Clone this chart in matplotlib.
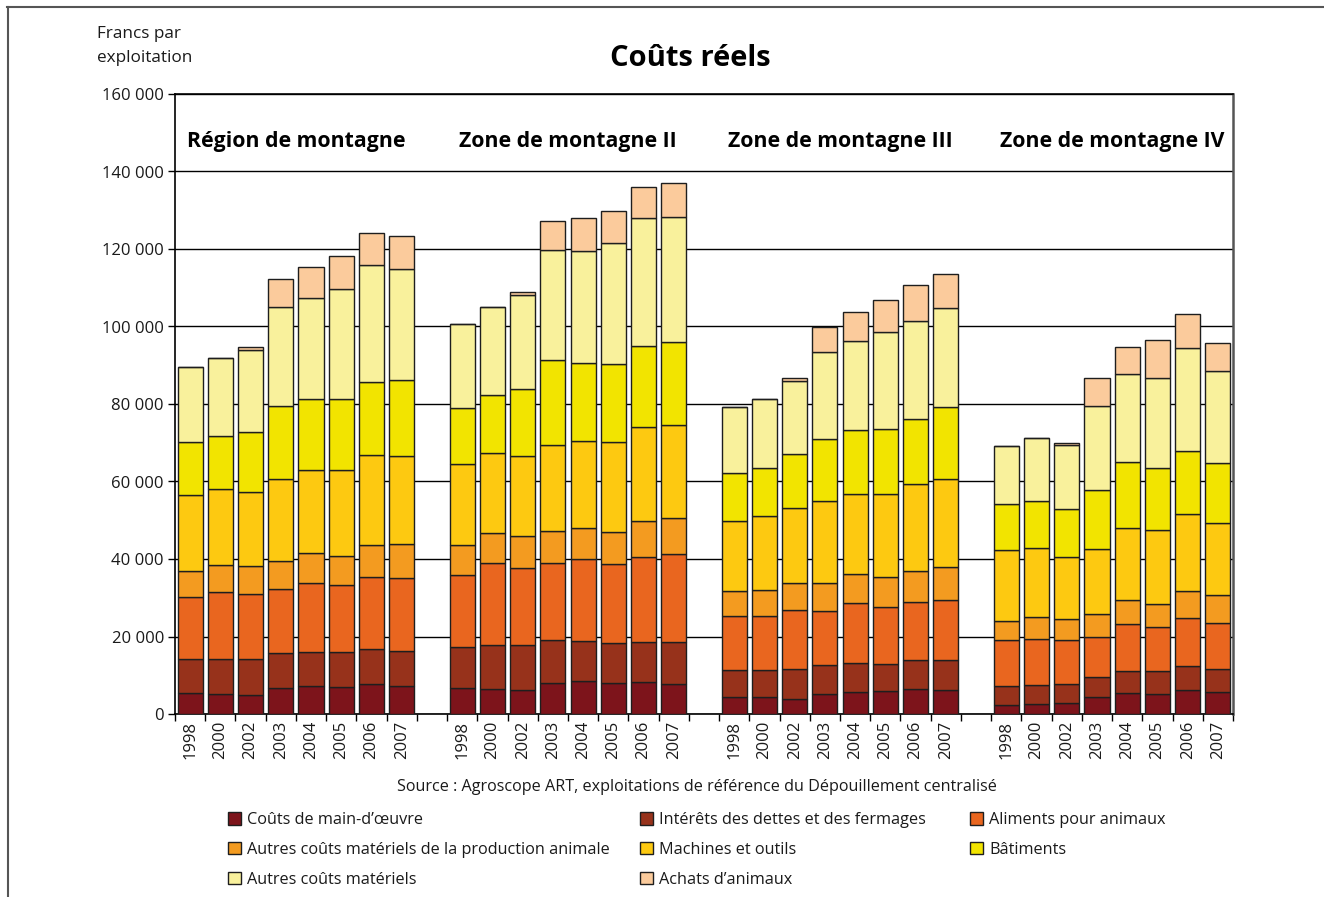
import numpy as np
import matplotlib
matplotlib.use("Agg")
import matplotlib.pyplot as plt
from matplotlib.lines import Line2D

plt.rcParams['font.family'] = ['Open Sans', 'DejaVu Sans']

years = ["1998", "2000", "2002", "2003", "2004", "2005", "2006", "2007"]
groups = ["Région de montagne", "Zone de montagne II",
          "Zone de montagne III", "Zone de montagne IV"]

# francs par exploitation, 4 zones x 8 années
labor = [5300, 5200, 4900, 6600, 7200, 7000, 7700, 7300,
         6600, 6500, 6300, 8000, 8400, 8000, 8300, 7800,
         4500, 4300, 4000, 5200, 5700, 5900, 6500, 6300,
         2400, 2700, 2900, 4400, 5400, 5200, 6200, 5700]
interest = [8800, 8900, 9200, 9200, 8900, 8900, 9000, 9000,
            10600, 11300, 11500, 11200, 10400, 10400, 10300, 10800,
            6900, 7100, 7600, 7500, 7500, 7100, 7500, 7700,
            4700, 4800, 4900, 5100, 5800, 5900, 6300, 5900]
feed = [16200, 17400, 16900, 16400, 17800, 17400, 18600, 18900,
        18700, 21200, 19900, 19800, 21100, 20300, 22000, 22600,
        13900, 13900, 15200, 14000, 15400, 14700, 15000, 15400,
        11900, 11900, 11300, 10500, 12100, 11400, 12400, 11800]
other_anim = [6700, 7000, 7300, 7400, 7600, 7500, 8300, 8700,
              7600, 7800, 8300, 8200, 8000, 8200, 9100, 9400,
              6400, 6700, 7000, 7200, 7500, 7700, 7900, 8600,
              5100, 5700, 5500, 5700, 6100, 5900, 6800, 7200]
machines = [19500, 19500, 19100, 21000, 21500, 22200, 23200, 22700,
            20900, 20500, 20500, 22300, 22500, 23400, 24400, 23900,
            18000, 19100, 19300, 21000, 20800, 21500, 22500, 22600,
            18200, 17700, 15800, 16900, 18600, 19200, 19800, 18800]
buildings = [13800, 13700, 15400, 19000, 18300, 18300, 19000, 19600,
             14500, 14900, 17300, 21900, 20200, 19900, 20800, 21600,
             12600, 12500, 14100, 16000, 16400, 16700, 16700, 18500,
             11800, 12100, 12500, 15200, 17100, 15900, 16400, 15500]
other_mat = [19300, 20200, 21100, 25500, 26100, 28300, 30100, 28700,
             21800, 22800, 24300, 28300, 28800, 31300, 33100, 32200,
             17000, 17800, 18800, 22600, 23000, 25100, 25400, 25800,
             15100, 16400, 16600, 21700, 22600, 23300, 26600, 23700]
achats = [0, 0, 900, 7100, 8000, 8600, 8200, 8500,
          0, 0, 900, 7500, 8600, 8200, 8100, 8700,
          0, 0, 800, 6400, 7400, 8200, 9100, 8600,
          0, 0, 500, 7300, 7100, 9700, 8800, 7200]

series = [
    ("Coûts de main-d’œuvre", labor, "#7d141b"),
    ("Intérêts des dettes et des fermages", interest, "#97321b"),
    ("Aliments pour animaux", feed, "#e9661f"),
    ("Autres coûts matériels de la production animale", other_anim, "#f39b20"),
    ("Machines et outils", machines, "#fdc911"),
    ("Bâtiments", buildings, "#f2e400"),
    ("Autres coûts matériels", other_mat, "#f9f19c"),
    ("Achats d’animaux", achats, "#fbcb9c"),
]

fig = plt.figure(figsize=(13.24, 8.97), dpi=100)
ax = fig.add_axes([175 / 1324, 1 - 714 / 897, 1058 / 1324, 620 / 897])

x = np.array([g * 9 + i for g in range(4) for i in range(8)])
bottom = np.zeros(len(x))
handles = []
for name, vals, col in series:
    vals = np.array(vals, dtype=float)
    b = ax.bar(x, vals, bottom=bottom, width=0.83, color=col,
               edgecolor="#1e1e1e", linewidth=1.0, label=name, zorder=3)
    handles.append(b)
    bottom += vals

ax.set_xlim(-0.5, 34.5)
ax.set_ylim(0, 160000)
ax.set_yticks(np.arange(0, 160001, 20000))
ax.set_yticklabels([f"{v:,.0f}".replace(",", " ") for v in np.arange(0, 160001, 20000)],
                   fontsize=12, color="#1a1a1a")
ax.yaxis.grid(True, color="black", linewidth=1.0, zorder=0)
ax.set_axisbelow(True)

ax.set_xticks(x)
ax.set_xticklabels(years * 4, rotation=90, fontsize=12, color="#1a1a1a")
ax.set_xticks(np.arange(-0.5, 35, 1), minor=True)
ax.tick_params(axis="x", which="major", length=0, pad=5)
ax.tick_params(axis="x", which="minor", length=5, width=1, direction="out")
ax.tick_params(axis="y", length=5, width=1, direction="out", pad=3)
for s in ax.spines.values():
    s.set_color("black")
    s.set_linewidth(1.2)
ax.spines["right"].set_color("#555555")
ax.spines["right"].set_linewidth(1.8)

for g, name in enumerate(groups):
    ax.text(g * 9 + 3.5, 147800, name, ha="center", va="center",
            fontsize=15.3, fontweight="bold", color="black")

fig.text(690 / 1324, 1 - 58 / 897, "Coûts réels", ha="center", va="center",
         fontsize=21, fontweight="bold", color="black")
fig.text(97 / 1324, 1 - 26 / 897, "Francs par\nexploitation", ha="left", va="top",
         fontsize=12.3, color="#1a1a1a", linespacing=1.65)
fig.text(697 / 1324, 1 - 787 / 897,
         "Source : Agroscope ART, exploitations de référence du Dépouillement centralisé",
         ha="center", va="center", fontsize=11.6, color="#1a1a1a")

cols = [[0, 3, 6], [1, 4, 7], [2, 5]]
col_x = [228, 640, 970]
for idx, cx in zip(cols, col_x):
    leg = fig.legend([handles[i] for i in idx], [series[i][0] for i in idx],
                     loc="upper left", bbox_to_anchor=(cx / 1324, 1 - 812 / 897),
                     frameon=False, fontsize=11.7, handlelength=0.82, handleheight=0.82,
                     handletextpad=0.35, labelspacing=0.85, borderpad=0,
                     borderaxespad=0)
    for t in leg.get_texts():
        t.set_color("#1a1a1a")

fig.add_artist(Line2D([7 / 1324, 1], [1 - 7.5 / 897, 1 - 7.5 / 897],
                      transform=fig.transFigure, color="#555555", linewidth=1.5))
fig.add_artist(Line2D([7.5 / 1324, 7.5 / 1324], [0, 1 - 7.5 / 897],
                      transform=fig.transFigure, color="#555555", linewidth=1.5))

fig.savefig("out.png", dpi=100)
